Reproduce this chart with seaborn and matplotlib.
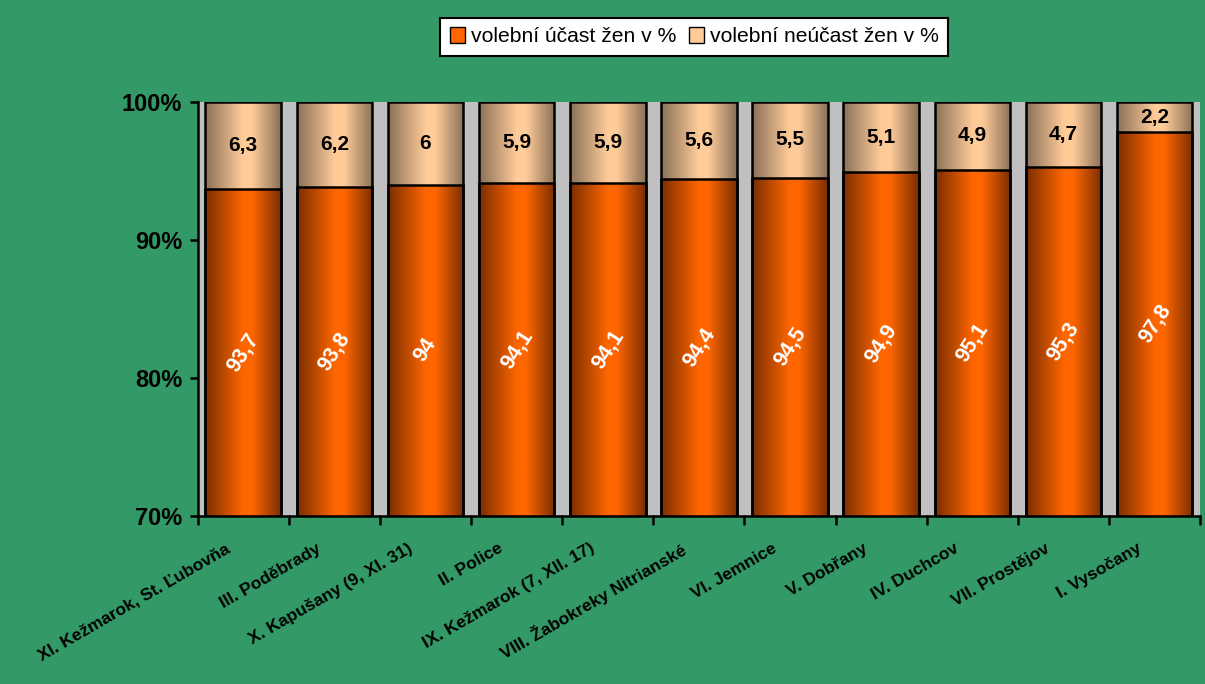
import matplotlib
matplotlib.use("Agg")
import matplotlib.pyplot as plt
import seaborn as sns
import pandas as pd
import numpy as np
from matplotlib.patches import Patch
from matplotlib.colors import LinearSegmentedColormap

mesta = ["XI. Kežmarok, St. Ľubovňa", "III. Poděbrady", "X. Kapušany (9, XI. 31)",
         "II. Police", "IX. Kežmarok (7, XII. 17)", "VIII. Žabokreky Nitrianské",
         "VI. Jemnice", "V. Dobřany", "IV. Duchcov", "VII. Prostějov", "I. Vysočany"]
ucast = [93.7, 93.8, 94, 94.1, 94.1, 94.4, 94.5, 94.9, 95.1, 95.3, 97.8]
neucast = [6.3, 6.2, 6, 5.9, 5.9, 5.6, 5.5, 5.1, 4.9, 4.7, 2.2]

df = pd.DataFrame({"mesto": mesta, "ucast": ucast, "neucast": neucast})
df["celkem"] = df["ucast"] + df["neucast"]

def fmt(v):
    return ("%g" % v).replace(".", ",")

sns.set_style("white")
plt.rcParams["font.family"] = ["Liberation Sans", "DejaVu Sans"]
plt.rcParams["text.color"] = "black"
plt.rcParams["xtick.color"] = "black"
plt.rcParams["ytick.color"] = "black"

zelena = "#339966"
oranz = "#ff6600"
bez = "#ffcc99"
YMIN = 70

# prechody barev jako v excelu (tmave okraje, svetly stred)
cm_oranz = LinearSegmentedColormap.from_list("o", [(0, "#7a2e00"), (0.5, "#ff6600"),
                                                   (0.62, "#ff6600"), (1, "#7a2e00")])
cm_bez = LinearSegmentedColormap.from_list("b", [(0, "#8a7058"), (0.5, "#ffcc99"),
                                                 (0.62, "#ffcc99"), (1, "#8a7058")])

fig = plt.figure(figsize=(12.05, 6.84), dpi=100)
fig.patch.set_facecolor(zelena)
ax = fig.add_axes([0.164, 0.246, 0.832, 0.605])
ax.set_facecolor("#c0c0c0")

sns.barplot(data=df, x="mesto", y="celkem", color=bez, edgecolor="black",
            linewidth=1.8, width=0.83, ax=ax, saturation=1)
n_bez = len(ax.patches)
sns.barplot(data=df, x="mesto", y="ucast", color=oranz, edgecolor="black",
            linewidth=1.8, width=0.83, ax=ax, saturation=1)

grad = np.linspace(0, 1, 256).reshape(1, -1)
for k, p in enumerate(list(ax.patches)):
    x0, y0 = p.get_x(), p.get_y()
    w, h = p.get_width(), p.get_height()
    cmap = cm_bez if k < n_bez else cm_oranz
    im = ax.imshow(grad, cmap=cmap, extent=[x0, x0 + w, max(y0, YMIN), y0 + h],
                   aspect="auto",
                   zorder=p.get_zorder() + (0.1 if k >= n_bez else 0.05))
    im.set_clip_path(p)
    p.set_facecolor("none")
    p.set_zorder(p.get_zorder() + (0.3 if k >= n_bez else 0.2))

ax.set_ylim(YMIN, 100)
ax.set_xlim(-0.5, len(mesta) - 0.5)
ax.set_yticks([70, 80, 90, 100])
ax.set_yticklabels(["70%", "80%", "90%", "100%"], fontsize=17, fontweight="bold")
# popisky trochu vlevo od stredu sloupce, jako v excelu
ax.set_xticks([i - 0.2 for i in range(len(mesta))])
ax.set_xticklabels(mesta, rotation=30, ha="right", rotation_mode="anchor",
                   fontsize=12.5, fontweight="bold")
ax.tick_params(axis="x", length=0, pad=18)
ax.tick_params(axis="y", length=6, width=1.8, direction="out", left=True, pad=5)
for b in [i + 0.5 for i in range(-1, len(mesta))]:
    ax.plot([b, b], [YMIN, YMIN - 0.6], color="black", lw=1.8, clip_on=False)
ax.set_xlabel("")
ax.set_ylabel("")
for s in ["top", "right"]:
    ax.spines[s].set_visible(False)
for s in ["left", "bottom"]:
    ax.spines[s].set_color("black")
    ax.spines[s].set_linewidth(1.8)
    ax.spines[s].set_zorder(5)

for i, (u, n) in enumerate(zip(ucast, neucast)):
    ax.text(i, (YMIN + u) / 2, fmt(u), color="white", fontsize=15.5, fontweight="bold",
            rotation=57, ha="center", va="center", zorder=10)
    ax.text(i, u + n / 2, fmt(n), color="black", fontsize=15, fontweight="bold",
            ha="center", va="center", zorder=10)

handles = [Patch(facecolor=oranz, edgecolor="black", label="volební účast žen v %"),
           Patch(facecolor=bez, edgecolor="black", label="volební neúčast žen v %")]
leg = fig.legend(handles=handles, loc="center", bbox_to_anchor=(0.576, 0.946), ncol=2,
                 frameon=True, fancybox=False, fontsize=15.2, handlelength=0.75,
                 handleheight=0.75, handletextpad=0.25, columnspacing=0.6,
                 borderpad=0.45, framealpha=1)
leg.get_frame().set_facecolor("white")
leg.get_frame().set_edgecolor("black")
leg.get_frame().set_linewidth(1.5)

fig.savefig("out.png", dpi=100, facecolor=zelena)
